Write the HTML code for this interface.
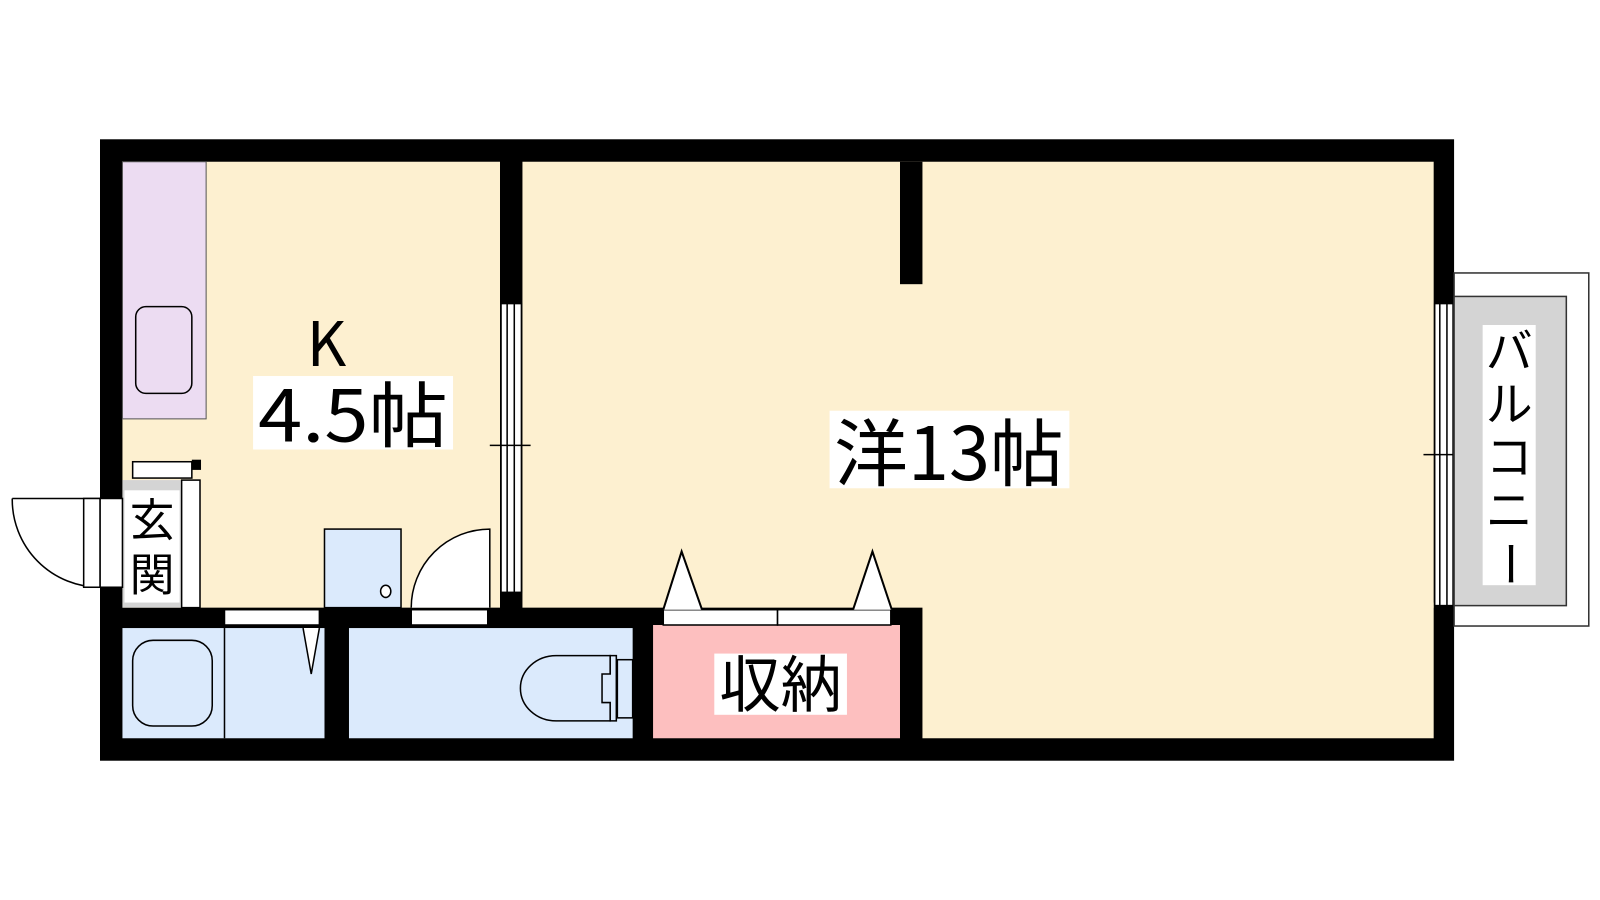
<!DOCTYPE html>
<html><head><meta charset="utf-8"><style>
html,body{margin:0;padding:0;background:#fff;width:1600px;height:900px;overflow:hidden}
svg{display:block}
text{font-family:"Noto Sans CJK JP","Liberation Sans",sans-serif;fill:#000}
</style></head><body>
<svg width="1600" height="900" viewBox="0 0 1568 881" xmlns="http://www.w3.org/2000/svg">
<rect x="98" y="136" width="1327" height="609" fill="#000"/>
<rect x="120" y="158" width="370" height="437" fill="#fdf0d0"/>
<rect x="512" y="158" width="893" height="437" fill="#fdf0d0"/>
<rect x="904" y="590" width="501" height="133" fill="#fdf0d0"/>
<rect x="882" y="158" width="22" height="120" fill="#000"/>
<rect x="491" y="297" width="20" height="283" fill="#fff" stroke="#000" stroke-width="1.5"/>
<line x1="497" y1="297" x2="497" y2="580" stroke="#000" stroke-width="1.5"/>
<line x1="504" y1="297" x2="504" y2="580" stroke="#000" stroke-width="1.5"/>
<line x1="480" y1="436" x2="520" y2="436" stroke="#000" stroke-width="1.5"/>
<rect x="120" y="158" width="82" height="252" fill="#ecdcf2" stroke="#555" stroke-width="1"/>
<rect x="133" y="300" width="55" height="85" rx="10" fill="#ecdcf2" stroke="#000" stroke-width="1.5"/>
<rect x="120" y="470" width="58" height="125" fill="#d4d4d4"/>
<rect x="130" y="452" width="58" height="16" fill="#fff" stroke="#000" stroke-width="1.5"/>
<rect x="188" y="450" width="9" height="10" fill="#000"/>
<rect x="178" y="470" width="18" height="125" fill="#fff" stroke="#000" stroke-width="1.5"/>
<rect x="122" y="480" width="54" height="110" fill="#fff"/>
<text x="149" y="525" font-size="44" text-anchor="middle">玄</text>
<text x="149" y="578" font-size="44" text-anchor="middle">関</text>
<rect x="98" y="488" width="22" height="87" fill="#fff" stroke="#000" stroke-width="1.5"/>
<path d="M12 488 H98 M12 488 A86 86 0 0 0 98 575" fill="none" stroke="#000" stroke-width="1.5"/>
<rect x="82" y="488" width="16" height="87" fill="#fff" stroke="#000" stroke-width="1.5"/>
<rect x="318" y="518" width="75" height="77" fill="#dbeafc" stroke="#000" stroke-width="1.5"/>
<ellipse cx="378" cy="579" rx="5" ry="6" fill="#fff" stroke="#000" stroke-width="1.5"/>
<path d="M403 595 A77 77 0 0 1 480 518 V595" fill="#fff" stroke="#000" stroke-width="1.5"/>
<rect x="120" y="615" width="198" height="108" fill="#dbeafc"/>
<line x1="220" y1="615" x2="220" y2="723" stroke="#000" stroke-width="1.5"/>
<rect x="130" y="627" width="78" height="84" rx="20" fill="none" stroke="#000" stroke-width="1.5"/>
<rect x="342" y="615" width="278" height="108" fill="#dbeafc"/>
<path d="M598 642 H545 A35 32 0 0 0 545 706 H598 Z" fill="none" stroke="#000" stroke-width="1.5"/>
<path d="M598 642 V660 H590 V688 H598 V706 H604 V642 Z" fill="#dbeafc" stroke="#000" stroke-width="1.5"/>
<rect x="605" y="646" width="15" height="57" fill="#dbeafc" stroke="#000" stroke-width="1.5"/>
<rect x="640" y="612" width="242" height="111" fill="#fdbfbf"/>
<rect x="220" y="597" width="93" height="15" fill="#fff" stroke="#000" stroke-width="1.5"/>
<path d="M297 615 L305 660 L313 615" fill="#fff" stroke="#000" stroke-width="1.5"/>
<rect x="403" y="597" width="75" height="15" fill="#fff" stroke="#000" stroke-width="1.5"/>
<rect x="650" y="597" width="112" height="15" fill="#fff" stroke="#000" stroke-width="1.5"/>
<rect x="762" y="597" width="111" height="15" fill="#fff" stroke="#000" stroke-width="1.5"/>
<path d="M650 597 L668 540 L688 597" fill="#fff" stroke="#000" stroke-width="2"/>
<path d="M836 597 L855 540 L874 597" fill="#fff" stroke="#000" stroke-width="2"/>
<rect x="1406" y="297" width="18" height="296" fill="#fff" stroke="#000" stroke-width="1.5"/>
<line x1="1411" y1="297" x2="1411" y2="593" stroke="#000" stroke-width="1.5"/>
<line x1="1418" y1="297" x2="1418" y2="593" stroke="#000" stroke-width="1.5"/>
<line x1="1395" y1="445" x2="1434" y2="445" stroke="#000" stroke-width="1.5"/>
<rect x="1425" y="267" width="132" height="346" fill="#fff" stroke="#333" stroke-width="1.5"/>
<rect x="1425" y="290" width="110" height="303" fill="#d4d4d4" stroke="#333" stroke-width="1.5"/>
<rect x="1453" y="318" width="52" height="255" fill="#fff"/>
<g font-size="46" text-anchor="middle">
<text x="1479" y="360">バ</text>
<text x="1479" y="412">ル</text>
<text x="1479" y="464">コ</text>
<text x="1479" y="516">ニ</text>
<text x="1479" y="568" transform="rotate(90 1479 552)">ー</text>
</g>
<text x="320" y="358" font-size="60" text-anchor="middle">K</text>
<rect x="248" y="368" width="196" height="72" fill="#fff"/>
<text x="346" y="432" font-size="70" text-anchor="middle" textLength="186" lengthAdjust="spacingAndGlyphs">4.5帖</text>
<rect x="813" y="402" width="235" height="76" fill="#fff"/>
<text x="930" y="470" font-size="72" text-anchor="middle" textLength="225" lengthAdjust="spacingAndGlyphs">洋13帖</text>
<rect x="700" y="640" width="130" height="60" fill="#fff"/>
<text x="765" y="692" font-size="60" text-anchor="middle">収納</text>
</svg>
</body></html>
